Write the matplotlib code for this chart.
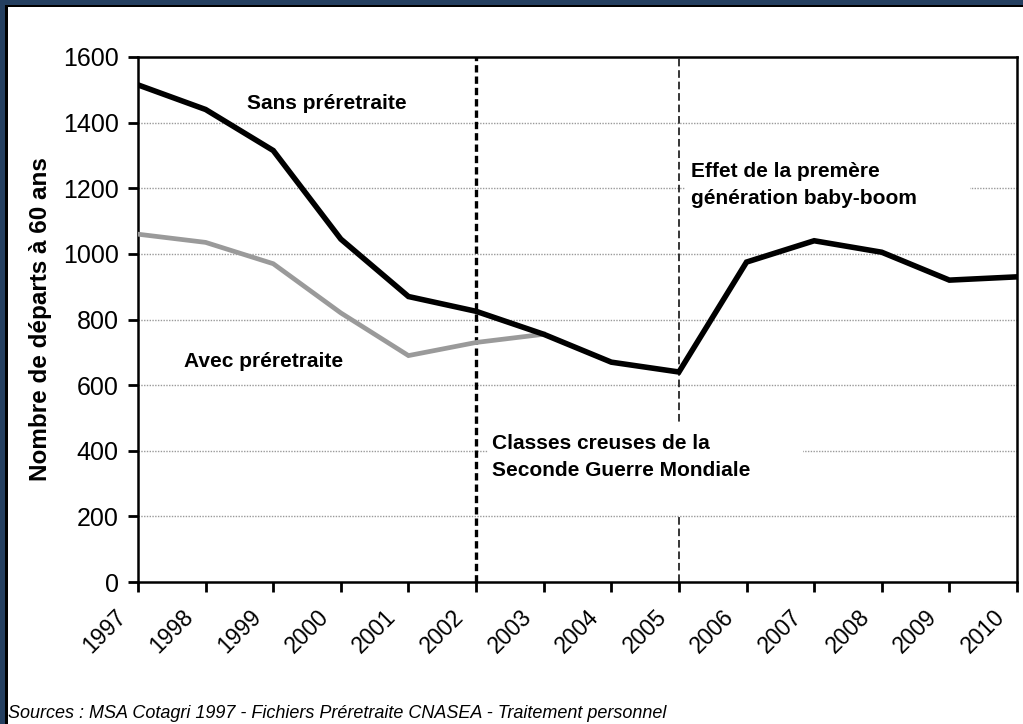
import matplotlib
matplotlib.use("Agg")
import matplotlib.pyplot as plt
from matplotlib.patches import Rectangle
from matplotlib.transforms import ScaledTranslation

years = [1997, 1998, 1999, 2000, 2001, 2002, 2003, 2004, 2005, 2006, 2007, 2008, 2009, 2010]
sans_preretraite = [1515, 1440, 1315, 1045, 870, 825, 755, 670, 640, 975, 1040, 1005, 920, 930]
avec_years = [1997, 1998, 1999, 2000, 2001, 2002, 2003]
avec_preretraite = [1060, 1035, 970, 820, 690, 730, 755]
y_ticks = [0, 200, 400, 600, 800, 1000, 1200, 1400, 1600]

plt.rcParams['font.family'] = ['Liberation Sans', 'DejaVu Sans']

W, H = 1023, 724
fig = plt.figure(figsize=(W / 100, H / 100), dpi=100, facecolor='white')

# Frame (dark blue + black line on top/left)
fig.patches.append(Rectangle((0, H - 5), W, 5, transform=None, facecolor='#243F60', edgecolor='none', zorder=0))
fig.patches.append(Rectangle((0, 0), 5, H, transform=None, facecolor='#243F60', edgecolor='none', zorder=0))
fig.patches.append(Rectangle((5, H - 7), W, 2, transform=None, facecolor='black', edgecolor='none', zorder=0))
fig.patches.append(Rectangle((5, 0), 3, H - 5, transform=None, facecolor='black', edgecolor='none', zorder=0))

left, right, top, bottom = 138, 1017, 57, 582
ax = fig.add_axes([left / W, (H - bottom) / H, (right - left) / W, (bottom - top) / H])
ax.set_facecolor('white')

ax.set_xlim(1997, 2010)
ax.set_ylim(0, 1600)
ax.set_yticks(y_ticks)
ax.set_yticklabels([str(v) for v in y_ticks], fontsize=18)
ax.set_xticks(years)
ax.set_xticklabels([str(y) for y in years], fontsize=16.5, rotation=45, ha='right',
                   va='top', rotation_mode='anchor')
ax.tick_params(axis='both', direction='out', length=7, width=2, color='black')
ax.tick_params(axis='y', pad=7)
ax.tick_params(axis='x', pad=10)
shift = ScaledTranslation(-0.24, 0, fig.dpi_scale_trans)
for lab in ax.get_xticklabels():
    lab.set_transform(lab.get_transform() + shift)
for sp in ax.spines.values():
    sp.set_linewidth(1.8)
    sp.set_color('black')

for v in y_ticks[1:-1]:
    ax.axhline(v, color='#9a9a9a', lw=1.0, ls=(0, (1, 1)), zorder=1)

# Vertical dashed lines
ax.axvline(2002, color='black', lw=2.4, ls=(0, (2.2, 1.2)), zorder=2)
ax.axvline(2005, color='black', lw=1.1, ls=(0, (5, 2.5)), zorder=2)

# White text boxes masking grid
ax.add_patch(Rectangle((2002.17, 204), 4.66, 281, facecolor='white', edgecolor='none', zorder=3))
ax.add_patch(Rectangle((2005.09, 1073), 4.22, 244, facecolor='white', edgecolor='none', zorder=3))

ax.plot(avec_years, avec_preretraite, color='#9a9a9a', lw=3.4, zorder=4, solid_joinstyle='miter')
ax.plot(years, sans_preretraite, color='black', lw=4.0, zorder=5, solid_joinstyle='miter')

tkw = dict(fontsize=15, fontweight='bold', zorder=6)
ax.text(1998.61, 1457, 'Sans préretraite', va='center', ha='left', **tkw)
ax.text(1997.68, 673, 'Avec préretraite', va='center', ha='left', **tkw)
ax.text(2002.24, 381, 'Classes creuses de la\nSeconde Guerre Mondiale', va='center', ha='left',
        linespacing=1.55, **tkw)
ax.text(2005.18, 1210, 'Effet de la premère\ngénération baby-boom', va='center', ha='left',
        linespacing=1.55, **tkw)

ax.set_ylabel('Nombre de départs à 60 ans', fontsize=17.5, fontweight='bold')
ax.yaxis.set_label_coords(-86 / (right - left), 0.5)

fig.text(8 / W, 1 - 713 / H, 'Sources : MSA Cotagri 1997 - Fichiers Préretraite CNASEA - Traitement personnel',
         fontsize=13, fontstyle='italic', ha='left', va='center')

fig.savefig('out.png', dpi=100, facecolor='white')
